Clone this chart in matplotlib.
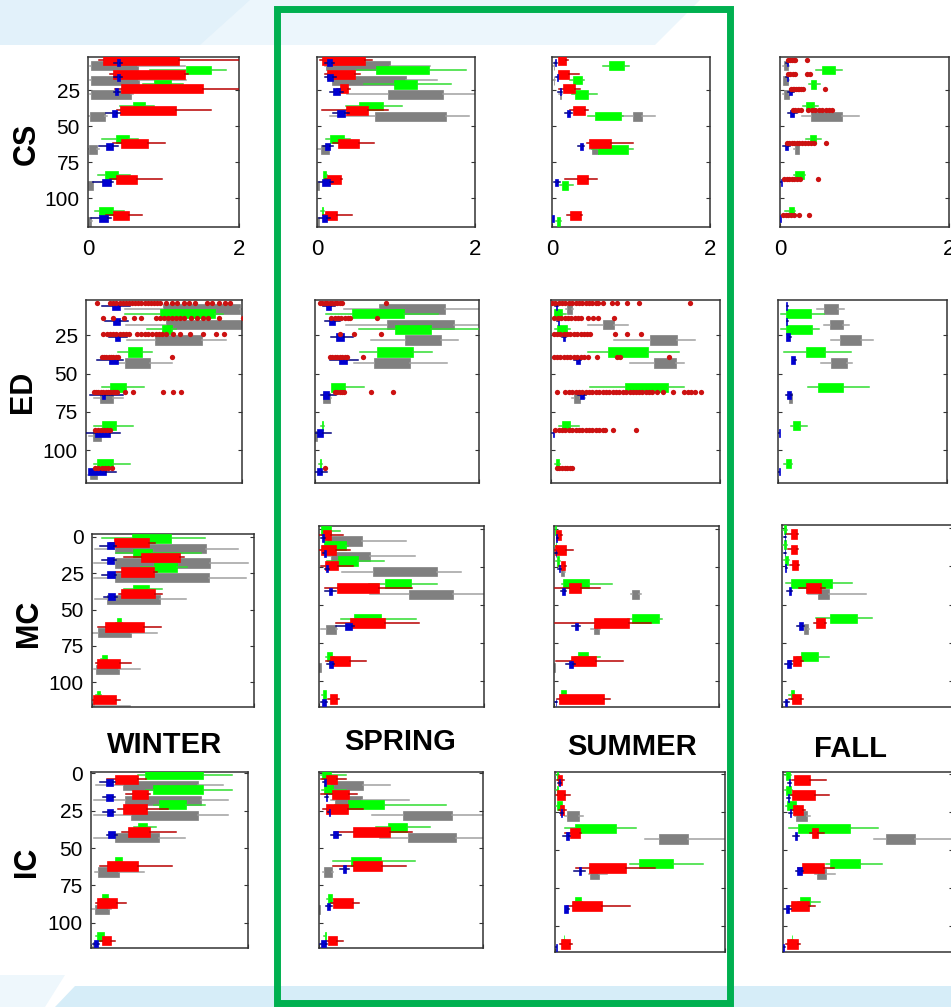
import matplotlib.pyplot as plt
from matplotlib.patches import Polygon, Rectangle

plt.rcParams['font.family'] = ['Liberation Sans', 'DejaVu Sans']

W, H = 951, 1007

# sampling depths (m) of the 7 groups in every panel
depths = [4, 14, 24, 39, 62, 87, 112]
seasons = ['WINTER', 'SPRING', 'SUMMER', 'FALL']
sites = ['CS', 'ED', 'MC', 'IC']

# each box: (whisker low, q1, q3, whisker high); None = nothing drawn
cs_winter = dict(
    blue=[(0.35, 0.38, 0.42, 0.45), (0.35, 0.38, 0.42, 0.45), (0.34, 0.36, 0.4, 0.43), (0.24, 0.32, 0.38, 0.42),
          (0.15, 0.24, 0.33, 0.4), (0.07, 0.18, 0.3, 0.33), (0.04, 0.15, 0.26, 0.3)],
    red=[(0.15, 0.2, 1.21, 2.1), (0.29, 0.33, 1.28, 1.32), (0.36, 0.44, 1.52, 2.1), (0.38, 0.42, 1.16, 1.63),
         (0.33, 0.44, 0.79, 1.02), (0.29, 0.37, 0.65, 0.98), (0.24, 0.33, 0.54, 0.72)],
    green=[None, (0.82, 1.3, 1.63, 1.83), (0.73, 0.88, 1.1, 1.26), (0.42, 0.6, 0.75, 0.88),
           (0.18, 0.37, 0.54, 0.66), (0.13, 0.22, 0.4, 0.55), (0.09, 0.15, 0.33, 0.48)],
    gray=[(0.02, 0.04, 0.66, 1.28), (0.02, 0.04, 0.68, 1.3), (0.02, 0.04, 0.57, 0.6), (0.0, 0.02, 0.22, 0.25),
          (0.0, 0.01, 0.12, 0.14), (0.0, 0.0, 0.06, 0.07), (0.0, 0.0, 0.04, 0.05)],
)
cs_spring = dict(
    blue=[(0.1, 0.13, 0.19, 0.22), (0.1, 0.13, 0.2, 0.24), (0.17, 0.2, 0.29, 0.33), (0.2, 0.25, 0.35, 0.4),
          (0.07, 0.1, 0.17, 0.2), (0.02, 0.06, 0.16, 0.2), (0.03, 0.06, 0.13, 0.17)],
    red=[(0.04, 0.06, 0.61, 0.7), (0.1, 0.13, 0.48, 0.55), (0.25, 0.29, 0.39, 0.42), (0.06, 0.37, 0.64, 0.9),
         (0.2, 0.27, 0.53, 0.72), (0.1, 0.13, 0.3, 0.32), (0.08, 0.1, 0.25, 0.44)],
    green=[None, (0.5, 0.75, 1.42, 1.88), (0.6, 0.98, 1.26, 1.7), (0.37, 0.53, 0.84, 1.07),
           (0.12, 0.17, 0.34, 0.42), (0.07, 0.08, 0.12, 0.13), (0.05, 0.06, 0.08, 0.09)],
    gray=[(0.1, 0.12, 0.93, 1.43), (0.15, 0.19, 1.13, 1.52), (0.38, 0.9, 1.6, 2.0), (0.17, 0.74, 1.63, 1.92),
          (0.0, 0.05, 0.15, 0.16), (0.0, 0.0, 0.02, 0.02), (0.0, 0.0, 0.02, 0.02)],
)
cs_summer = dict(
    blue=[(0.03, 0.04, 0.05, 0.06), (0.05, 0.06, 0.07, 0.08), (0.08, 0.1, 0.11, 0.13), (0.17, 0.19, 0.23, 0.25),
          (0.33, 0.35, 0.39, 0.41), (0.03, 0.04, 0.08, 0.1), (0.0, 0.0, 0.02, 0.02)],
    red=[(0.07, 0.08, 0.18, 0.2), (0.07, 0.08, 0.21, 0.34), (0.09, 0.14, 0.29, 0.36), (0.23, 0.27, 0.42, 0.46),
         (0.44, 0.47, 0.75, 1.03), (0.17, 0.32, 0.46, 0.57), (0.19, 0.23, 0.37, 0.38)],
    green=[(0.65, 0.72, 0.91, 0.97), (0.23, 0.27, 0.38, 0.4), (0.25, 0.29, 0.46, 0.57), (0.46, 0.55, 0.87, 0.9),
           (0.5, 0.58, 0.96, 1.03), (0.1, 0.13, 0.2, 0.27), (0.05, 0.06, 0.1, 0.11)],
    gray=[(0.01, 0.02, 0.03, 0.03), (0.01, 0.02, 0.03, 0.04), (0.09, 0.1, 0.12, 0.13), (0.88, 1.02, 1.14, 1.3),
          (0.48, 0.5, 0.58, 0.6), None, None],
)
cs_fall = dict(
    blue=[(0.07, 0.08, 0.09, 0.1), (0.07, 0.08, 0.09, 0.1), (0.1, 0.11, 0.14, 0.16), (0.09, 0.12, 0.17, 0.2),
          (0.04, 0.06, 0.1, 0.12), (0.0, 0.01, 0.02, 0.02), (0.0, 0.0, 0.01, 0.01)],
    green=[None, (0.43, 0.5, 0.65, 0.73), (0.34, 0.37, 0.43, 0.47), (0.27, 0.31, 0.4, 0.45),
           (0.31, 0.36, 0.43, 0.49), (0.16, 0.18, 0.28, 0.3), (0.06, 0.11, 0.16, 0.18)],
    gray=[(0.04, 0.05, 0.1, 0.11), (0.03, 0.04, 0.1, 0.11), (0.04, 0.05, 0.11, 0.12), (0.26, 0.37, 0.73, 0.93),
          (0.17, 0.18, 0.22, 0.23), None, None],
)
cs_fall_dots = [
    [0.1, 0.12, 0.14, 0.16, 0.18, 0.32],
    [0.1, 0.12, 0.15, 0.18, 0.32, 0.36],
    [0.13, 0.15, 0.17, 0.19, 0.21, 0.23, 0.25, 0.27, 0.53],
    [0.15, 0.18, 0.21, 0.25, 0.33, 0.38, 0.42, 0.46, 0.5, 0.54, 0.58, 0.62],
    [0.08, 0.11, 0.14, 0.17, 0.2, 0.23, 0.26, 0.29, 0.33, 0.37, 0.4, 0.55],
    [0.05, 0.08, 0.11, 0.14, 0.17, 0.2, 0.24, 0.45],
    [0.04, 0.07, 0.1, 0.13, 0.16, 0.22, 0.34],
]

ed_winter = dict(
    blue=[(0.2, 0.33, 0.43, 0.56), (0.24, 0.35, 0.43, 0.54), (0.29, 0.37, 0.43, 0.52), (0.14, 0.3, 0.41, 0.48),
          (0.05, 0.2, 0.24, 0.48), (0.0, 0.12, 0.31, 0.43), (0.03, 0.03, 0.26, 0.39)],
    green=[None, (0.5, 0.95, 1.65, 1.75), (0.78, 0.97, 1.1, 1.15), (0.41, 0.54, 0.72, 0.84),
           (0.2, 0.31, 0.51, 0.74), (0.1, 0.2, 0.39, 0.6), (0.1, 0.14, 0.34, 0.56)],
    gray=[(0.5, 0.99, 1.97, 2.1), (0.51, 1.03, 2.01, 2.1), (0.52, 0.88, 1.49, 1.8), (0.31, 0.5, 0.82, 1.1),
          (0.1, 0.18, 0.34, 0.48), (0.04, 0.09, 0.19, 0.22), (0.03, 0.05, 0.14, 0.16)],
)
ed_winter_dots = [
    [0.14, 0.31, 0.35, 0.39, 0.43, 0.47, 0.51, 0.55, 0.59, 0.63, 0.67, 0.71, 0.75, 0.79, 0.83, 0.87, 0.91, 0.95,
     1.03, 1.1, 1.17, 1.25, 1.32, 1.4, 1.55, 1.62, 1.7, 1.78, 1.84],
    [0.22, 0.35, 0.49, 0.61, 0.71, 0.9, 0.95, 1.0, 1.05, 1.1, 1.15, 1.2, 1.25, 1.35, 1.42, 1.5, 1.57, 1.7, 2.01],
    [0.22, 0.27, 0.31, 0.35, 0.39, 0.43, 0.47, 0.51, 0.55, 0.65, 0.7, 0.75, 0.8, 0.85, 0.9, 0.94, 0.98, 1.03,
     1.12, 1.2, 1.33, 1.5, 1.67, 1.77],
    [0.2, 0.23, 0.26, 0.29, 0.32, 0.35, 0.38, 0.41, 1.1],
    [0.1, 0.13, 0.16, 0.19, 0.22, 0.25, 0.28, 0.31, 0.34, 0.37, 0.4, 0.5, 0.6, 0.99, 1.12, 1.22],
    [0.11, 0.15, 0.19, 0.23, 0.27, 0.31],
    [0.12, 0.16, 0.2, 0.24, 0.28, 0.33],
]
ed_spring = dict(
    blue=[(0.1, 0.14, 0.2, 0.24), (0.12, 0.17, 0.24, 0.3), (0.2, 0.26, 0.35, 0.46), (0.18, 0.29, 0.39, 0.52),
          (0.07, 0.1, 0.17, 0.26), (0.0, 0.02, 0.1, 0.2), (0.0, 0.03, 0.08, 0.15)],
    green=[None, (0.14, 0.45, 1.08, 1.5), (0.54, 0.98, 1.41, 2.0), (0.55, 0.76, 1.19, 1.43),
           (0.19, 0.19, 0.36, 0.6), (0.07, 0.08, 0.1, 0.11), (0.05, 0.06, 0.07, 0.08)],
    gray=[(0.35, 0.78, 1.59, 2.1), (0.38, 0.88, 1.69, 2.1), (0.68, 1.1, 1.54, 1.74), (0.47, 0.72, 1.16, 1.61),
          (0.1, 0.1, 0.18, 0.2), (0.0, 0.0, 0.02, 0.02), None],
)
ed_spring_dots = [
    [0.06, 0.09, 0.12, 0.15, 0.18, 0.21, 0.24, 0.27, 0.3, 0.33, 0.87],
    [0.2, 0.24, 0.28, 0.32, 0.36, 0.4, 0.43, 0.75],
    [0.3, 0.48, 0.8],
    [0.18, 0.21, 0.24, 0.27, 0.3, 0.33, 0.36, 0.39, 0.59],
    [0.24, 0.27, 0.3, 0.33, 0.35, 0.68, 0.95],
    [],
    [0.12],
]
ed_summer = dict(
    blue=[(0.05, 0.06, 0.07, 0.08), (0.07, 0.08, 0.09, 0.1), (0.13, 0.14, 0.17, 0.18), (0.27, 0.29, 0.34, 0.36),
          (0.32, 0.34, 0.39, 0.41), (0.01, 0.02, 0.03, 0.04), None],
    green=[None, (0.03, 0.04, 0.13, 0.18), (0.05, 0.07, 0.19, 0.22), (0.44, 0.67, 1.15, 1.52),
           (0.46, 0.87, 1.39, 1.57), (0.1, 0.13, 0.23, 0.33), (0.05, 0.06, 0.1, 0.11)],
    gray=[(0.18, 0.19, 0.25, 0.26), (0.44, 0.61, 0.75, 0.91), (0.75, 1.17, 1.49, 1.71), (0.94, 1.22, 1.48, 1.57),
          (0.25, 0.27, 0.34, 0.4), None, None],
)
ed_summer_dots = [
    [0.01, 0.05, 0.09, 0.13, 0.17, 0.21, 0.25, 0.29, 0.33, 0.37, 0.41, 0.45, 0.49, 0.53, 0.56, 0.62, 0.72, 0.78,
     0.9, 1.04, 1.64],
    [0.04, 0.08, 0.12, 0.16, 0.2, 0.24, 0.28, 0.32, 0.35, 0.44, 0.5, 0.56, 0.74],
    [0.03, 0.07, 0.11, 0.15, 0.19, 0.23, 0.27, 0.31, 0.35, 0.39, 0.43, 0.46, 0.76, 0.9, 1.06],
    [0.03, 0.07, 0.11, 0.15, 0.19, 0.23, 0.27, 0.31, 0.35, 0.39, 0.44, 0.54, 0.78, 0.82, 1.4],
    [0.07, 0.17, 0.21, 0.25, 0.29, 0.33, 0.37, 0.41, 0.45, 0.49, 0.53, 0.57, 0.61, 0.65, 0.69, 0.73, 0.77, 0.81,
     0.85, 0.89, 0.93, 0.97, 1.0, 1.04, 1.08, 1.12, 1.16, 1.2, 1.25, 1.33, 1.44, 1.57, 1.62, 1.66, 1.7, 1.78],
    [0.05, 0.09, 0.13, 0.17, 0.21, 0.25, 0.29, 0.33, 0.37, 0.41, 0.45, 0.49, 0.53, 0.57, 0.61, 0.64, 0.73, 1.0],
    [0.07, 0.1, 0.13, 0.16, 0.19, 0.22, 0.25],
]
ed_fall = dict(
    blue=[(0.09, 0.1, 0.11, 0.12), (0.09, 0.1, 0.11, 0.12), (0.09, 0.1, 0.14, 0.15), (0.15, 0.15, 0.2, 0.21),
          (0.09, 0.11, 0.15, 0.17), (0.0, 0.01, 0.02, 0.02), (0.0, 0.01, 0.02, 0.02)],
    green=[None, (0.03, 0.09, 0.39, 0.54), (0.04, 0.09, 0.4, 0.48), (0.07, 0.33, 0.56, 0.86),
           (0.35, 0.47, 0.77, 1.08), (0.15, 0.18, 0.26, 0.34), (0.07, 0.09, 0.15, 0.16)],
    gray=[(0.46, 0.55, 0.71, 0.78), (0.54, 0.62, 0.77, 0.84), (0.63, 0.73, 0.98, 1.12), (0.51, 0.63, 0.82, 0.88),
          (0.12, 0.13, 0.16, 0.17), None, None],
)

mc_winter = dict(
    blue=[(0.1, 0.18, 0.27, 0.3), (0.12, 0.18, 0.27, 0.3), (0.12, 0.18, 0.28, 0.3), (0.15, 0.2, 0.29, 0.31),
          None, None, None],
    red=[(0.22, 0.27, 0.7, 0.78), (0.4, 0.6, 1.09, 1.13), (0.3, 0.36, 0.76, 0.8), (0.33, 0.36, 0.78, 0.86),
         (0.08, 0.16, 0.64, 0.85), (0.05, 0.06, 0.34, 0.48), (0.0, 0.01, 0.3, 0.34)],
    green=[(0.12, 0.49, 0.97, 1.39), (0.3, 0.51, 0.74, 1.35), (0.6, 0.77, 1.05, 1.17), (0.4, 0.51, 0.7, 0.86),
           (0.3, 0.31, 0.36, 0.37), (0.11, 0.12, 0.18, 0.19), (0.05, 0.06, 0.1, 0.11)],
    gray=[(0.04, 0.29, 1.41, 1.8), (0.03, 0.29, 1.46, 1.92), (0.03, 0.29, 1.44, 1.9), (0.04, 0.18, 0.84, 1.16),
          (0.0, 0.08, 0.48, 0.8), (0.02, 0.05, 0.33, 0.59), (0.01, 0.01, 0.02, 0.47)],
)
mc_spring = dict(
    blue=[(0.03, 0.04, 0.06, 0.07), (0.05, 0.06, 0.08, 0.09), (0.07, 0.08, 0.11, 0.12), (0.07, 0.12, 0.16, 0.21),
          (0.21, 0.31, 0.4, 0.42), (0.1, 0.12, 0.17, 0.18), (0.02, 0.04, 0.08, 0.1)],
    red=[(0.0, 0.05, 0.15, 0.29), (0.0, 0.02, 0.2, 0.38), (0.02, 0.07, 0.23, 0.41), (0.07, 0.22, 0.73, 1.13),
         (0.21, 0.37, 0.8, 1.21), (0.09, 0.13, 0.38, 0.57), (0.11, 0.13, 0.22, 0.24)],
    green=[(0.02, 0.03, 0.15, 0.25), (0.05, 0.06, 0.33, 0.35), (0.1, 0.23, 0.47, 0.79), (0.6, 0.8, 1.11, 1.43),
           (0.27, 0.43, 0.75, 1.17), (0.09, 0.1, 0.16, 0.18), (0.04, 0.05, 0.08, 0.09)],
    gray=[(0.05, 0.1, 0.52, 1.06), (0.1, 0.14, 0.62, 1.16), (0.28, 0.65, 1.43, 1.72), (0.62, 1.09, 1.62, 2.0),
          (0.03, 0.09, 0.2, 0.22), (0.0, 0.0, 0.03, 0.03), None],
)
mc_summer = dict(
    blue=[(0.02, 0.03, 0.04, 0.05), (0.01, 0.02, 0.03, 0.04), (0.05, 0.06, 0.07, 0.08), (0.08, 0.1, 0.13, 0.15),
          (0.22, 0.25, 0.29, 0.31), (0.15, 0.18, 0.23, 0.25), (0.01, 0.02, 0.03, 0.04)],
    red=[(0.02, 0.03, 0.09, 0.1), (0.0, 0.01, 0.14, 0.23), (0.06, 0.09, 0.13, 0.15), (0.01, 0.18, 0.33, 0.56),
         (0.01, 0.49, 0.91, 1.18), (0.03, 0.2, 0.51, 0.84), (0.04, 0.06, 0.6, 0.68)],
    green=[(0.01, 0.01, 0.02, 0.03), (0.01, 0.02, 0.03, 0.04), (0.03, 0.04, 0.06, 0.07), (0.1, 0.11, 0.43, 0.7),
           (0.9, 0.95, 1.27, 1.31), (0.25, 0.29, 0.41, 0.56), (0.08, 0.09, 0.14, 0.15)],
    gray=[None, None, (0.08, 0.08, 0.12, 0.13), (0.93, 0.95, 1.03, 1.05), (0.45, 0.49, 0.54, 0.56),
          (0.0, 0.0, 0.01, 0.01), None],
)
mc_fall = dict(
    blue=[(0.02, 0.03, 0.04, 0.05), (0.02, 0.03, 0.04, 0.05), (0.03, 0.04, 0.05, 0.06), (0.06, 0.08, 0.1, 0.12),
          (0.17, 0.2, 0.24, 0.26), (0.04, 0.06, 0.1, 0.12), (0.02, 0.04, 0.06, 0.08)],
    red=[(0.06, 0.1, 0.18, 0.19), (0.07, 0.1, 0.18, 0.19), (0.09, 0.12, 0.19, 0.2), (0.2, 0.28, 0.46, 0.5),
         (0.38, 0.4, 0.5, 0.52), (0.08, 0.13, 0.22, 0.24), (0.08, 0.12, 0.22, 0.24)],
    green=[(0.01, 0.02, 0.05, 0.06), (0.01, 0.02, 0.05, 0.06), (0.02, 0.03, 0.07, 0.08), (0.05, 0.1, 0.58, 0.82),
           (0.4, 0.56, 0.88, 1.05), (0.18, 0.22, 0.42, 0.55), (0.08, 0.1, 0.14, 0.15)],
    gray=[None, None, None, (0.3, 0.42, 0.55, 0.98), (0.25, 0.26, 0.3, 0.31), None, None],
)

ic_winter = dict(
    blue=[(0.12, 0.19, 0.28, 0.3), (0.15, 0.19, 0.28, 0.3), (0.15, 0.2, 0.28, 0.3), (0.2, 0.22, 0.31, 0.33),
          None, None, (0.03, 0.04, 0.09, 0.1)],
    red=[(0.2, 0.3, 0.6, 0.7), (0.45, 0.52, 0.72, 0.75), (0.35, 0.41, 0.71, 0.98), (0.39, 0.47, 0.75, 1.08),
         (0.11, 0.2, 0.6, 1.03), (0.06, 0.08, 0.33, 0.44), (0.12, 0.14, 0.25, 0.3)],
    green=[(0.6, 0.69, 1.43, 1.79), (0.7, 0.79, 1.43, 1.8), (0.8, 0.86, 1.21, 1.45), (0.55, 0.6, 0.71, 0.83),
           (0.3, 0.31, 0.39, 0.4), (0.13, 0.14, 0.22, 0.23), (0.07, 0.08, 0.16, 0.17)],
    gray=[(0.06, 0.41, 1.36, 1.68), (0.04, 0.43, 1.4, 1.75), (0.04, 0.51, 1.36, 1.74), (0.04, 0.31, 0.86, 1.2),
          (0.05, 0.09, 0.36, 0.67), (0.01, 0.05, 0.23, 0.25), (0.0, 0.02, 0.06, 0.07)],
)
ic_spring = dict(
    blue=[(0.05, 0.06, 0.08, 0.09), (0.07, 0.08, 0.1, 0.11), (0.11, 0.12, 0.13, 0.14), (0.15, 0.17, 0.23, 0.27),
          (0.26, 0.29, 0.33, 0.37), (0.08, 0.1, 0.14, 0.16), (0.01, 0.03, 0.08, 0.1)],
    red=[(0.03, 0.08, 0.22, 0.33), (0.03, 0.16, 0.37, 0.46), (0.05, 0.09, 0.35, 0.54), (0.2, 0.41, 0.87, 1.14),
         (0.17, 0.41, 0.77, 1.06), (0.15, 0.17, 0.42, 0.49), (0.08, 0.11, 0.22, 0.29)],
    green=[(0.02, 0.04, 0.15, 0.33), (0.04, 0.06, 0.17, 0.33), (0.2, 0.35, 0.79, 1.55), (0.7, 0.84, 1.07, 1.35),
           (0.17, 0.39, 0.75, 1.17), (0.1, 0.11, 0.16, 0.17), (0.06, 0.07, 0.08, 0.09)],
    gray=[(0.1, 0.13, 0.54, 0.87), (0.15, 0.2, 0.53, 1.1), (0.65, 1.03, 1.62, 2.0), (0.74, 1.09, 1.67, 2.0),
          (0.05, 0.06, 0.16, 0.17), (0.0, 0.0, 0.01, 0.01), None],
)
ic_summer = dict(
    blue=[(0.04, 0.05, 0.06, 0.07), None, (0.06, 0.07, 0.08, 0.09), (0.09, 0.13, 0.16, 0.18),
          (0.22, 0.28, 0.31, 0.35), (0.1, 0.11, 0.15, 0.16), (0.0, 0.01, 0.02, 0.02)],
    red=[(0.02, 0.03, 0.08, 0.11), (0.01, 0.02, 0.12, 0.18), (0.05, 0.06, 0.11, 0.13), (0.12, 0.18, 0.29, 0.3),
         (0.25, 0.4, 0.84, 1.18), (0.14, 0.2, 0.55, 0.88), (0.06, 0.07, 0.18, 0.2)],
    green=[(0.01, 0.02, 0.03, 0.04), (0.01, 0.02, 0.03, 0.04), (0.01, 0.02, 0.08, 0.09), (0.12, 0.23, 0.72, 0.95),
           (0.88, 0.99, 1.39, 1.74), (0.22, 0.23, 0.31, 0.32), (0.09, 0.1, 0.11, 0.12)],
    gray=[None, None, (0.12, 0.14, 0.28, 0.33), (1.06, 1.22, 1.56, 2.0), (0.4, 0.41, 0.52, 0.61), None, None],
)
ic_fall = dict(
    blue=[(0.06, 0.07, 0.08, 0.09), (0.05, 0.06, 0.07, 0.08), (0.07, 0.08, 0.09, 0.1), (0.12, 0.14, 0.17, 0.19),
          (0.15, 0.17, 0.22, 0.24), (0.01, 0.03, 0.07, 0.09), (0.0, 0.0, 0.01, 0.02)],
    red=[(0.11, 0.13, 0.32, 0.5), (0.09, 0.11, 0.38, 0.54), (0.1, 0.12, 0.24, 0.26), (0.32, 0.34, 0.41, 0.48),
         (0.18, 0.22, 0.48, 0.6), (0.07, 0.09, 0.31, 0.38), (0.04, 0.05, 0.18, 0.2)],
    green=[(0.02, 0.03, 0.08, 0.09), (0.02, 0.03, 0.09, 0.1), (0.04, 0.05, 0.15, 0.16), (0.07, 0.18, 0.79, 1.12),
           (0.5, 0.55, 0.9, 1.17), (0.18, 0.2, 0.32, 0.44), (0.09, 0.1, 0.11, 0.12)],
    gray=[None, None, (0.14, 0.15, 0.28, 0.32), (1.07, 1.21, 1.55, 1.98), (0.38, 0.4, 0.51, 0.61), None, None],
)

panels = {
    'CS': [cs_winter, cs_spring, cs_summer, cs_fall],
    'ED': [ed_winter, ed_spring, ed_summer, ed_fall],
    'MC': [mc_winter, mc_spring, mc_summer, mc_fall],
    'IC': [ic_winter, ic_spring, ic_summer, ic_fall],
}
red_dots = {
    ('CS', 3): cs_fall_dots,
    ('ED', 0): ed_winter_dots,
    ('ED', 1): ed_spring_dots,
    ('ED', 2): ed_summer_dots,
}

#######################################################################################################################
# layout (pixel boxes of the panels: left, top, right, bottom)
#######################################################################################################################
axes_px = {
    'CS': [(88, 57, 239, 227), (317, 57, 475, 227), (552, 57, 710, 227), (780, 57, 949, 227)],
    'ED': [(86, 300, 242, 483), (315, 300, 479, 483), (551, 300, 720, 483), (778, 300, 947, 483)],
    'MC': [(92, 534, 254, 707), (319, 526, 484, 707), (554, 526, 719, 707), (782, 525, 953, 707)],
    'IC': [(91, 772, 248, 948), (319, 772, 483, 948), (555, 772, 725, 952), (783, 772, 953, 952)],
}
ylims = {'CS': (120, 2), 'ED': (121.5, 2), 'MC': (117, -2), 'IC': (117, -1)}

face = {'gray': '#808080', 'green': '#00ff00', 'red': '#ff0000', 'blue': '#0000d0'}
whisk = {'gray': '#a0a0a0', 'green': '#30dd30', 'red': '#b80000', 'blue': '#000080'}
thick = {'gray': 6.3, 'green': 6.0, 'red': 6.5, 'blue': 5.0}
layer = {'gray': 2, 'green': 3, 'red': 4, 'blue': 5}
offset = {'gray': 4.0, 'green': -3.0, 'red': 0.0, 'blue': 2.0}
offset_override = {('CS', 2): {'green': 4.0}}

fig = plt.figure(figsize=(W / 100, H / 100), dpi=100)
fig.patch.set_facecolor('white')


def px_rect(l, t, r, b):
    return [l / W, 1 - b / H, (r - l) / W, (b - t) / H]


def px_pts(pts):
    return [(x / W, 1 - y / H) for x, y in pts]


# pale blue background decoration
for pts, col in [
    ([(0, 0), (700, 0), (655, 45), (0, 45)], '#ecf6fc'),
    ([(0, 0), (250, 0), (200, 45), (0, 45)], '#e2f1fa'),
    ([(75, 986), (951, 986), (951, 1007), (55, 1007)], '#d6edf8'),
    ([(0, 975), (65, 975), (45, 1007), (0, 1007)], '#eef7fc'),
]:
    fig.add_artist(Polygon(px_pts(pts), closed=True, transform=fig.transFigure,
                           facecolor=col, edgecolor='none', zorder=0))

for r, site in enumerate(sites):
    for c in range(4):
        ax = fig.add_axes(px_rect(*axes_px[site][c]))
        ax.set_facecolor('white')
        data = panels[site][c]
        offs = dict(offset)
        offs.update(offset_override.get((site, c), {}))

        for colr in ['gray', 'green', 'red', 'blue']:
            stats, pos = [], []
            for d, b in zip(depths, data.get(colr, [None] * 7)):
                if b is None:
                    continue
                lo, q1, q3, hi = b
                stats.append(dict(whislo=lo, q1=q1, med=(q1 + q3) / 2, q3=q3, whishi=hi, fliers=[]))
                pos.append(d + offs[colr])
            if not stats:
                continue
            ax.bxp(stats, positions=pos, widths=thick[colr], orientation='horizontal',
                   patch_artist=True, showcaps=False, showfliers=False, manage_ticks=False,
                   boxprops=dict(facecolor=face[colr], edgecolor=face[colr], linewidth=0.5),
                   whiskerprops=dict(color=whisk[colr], linewidth=1.1, linestyle='-'),
                   medianprops=dict(color=face[colr], linewidth=0),
                   zorder=layer[colr])

        dots = red_dots.get((site, c))
        if dots is not None:
            for d, xs in zip(depths, dots):
                ax.plot(xs, [d] * len(xs), 'o', color='#cc1111', markersize=3.8,
                        markeredgewidth=0, zorder=7, clip_on=True)

        # ticks first, then limits (set_ticks would widen the view otherwise)
        ax.set_xticks([0, 2])
        ax.set_yticks([0, 25, 50, 75, 100])
        ax.set_xlim(0, 2)
        ax.set_ylim(*ylims[site])
        ax.tick_params(direction='in', length=3, width=0.8, color='#333333',
                       left=True, right=True, top=False, bottom=True)
        ax.tick_params(axis='y', labelsize=15, pad=6, labelleft=(c == 0))
        ax.tick_params(axis='x', labelsize=16, pad=9, labelbottom=(site == 'CS'))
        for s in ax.spines.values():
            s.set_color('#333333')
            s.set_linewidth(1.1)

# row labels
row_lab_px = {'CS': (27, 144), 'ED': (23, 392), 'MC': (29, 623), 'IC': (27, 862)}
for site, (x, y) in row_lab_px.items():
    fig.text(x / W, 1 - y / H, site, rotation=90, ha='center', va='center',
             fontsize=22, fontweight='bold')

# season titles
title_px = [(165, 745), (400, 742), (632, 747), (850, 749)]
for name, (x, y) in zip(seasons, title_px):
    fig.text(x / W, 1 - y / H, name, ha='center', va='center', fontsize=21, fontweight='bold')

# green frame around SPRING and SUMMER
fig.add_artist(Rectangle((277 / W, 1 - 1003 / H), (730 - 277) / W, (1003 - 9) / H,
                         transform=fig.transFigure, fill=False, edgecolor='#00b050',
                         linewidth=5, zorder=20))

fig.savefig('out.png', dpi=100)
